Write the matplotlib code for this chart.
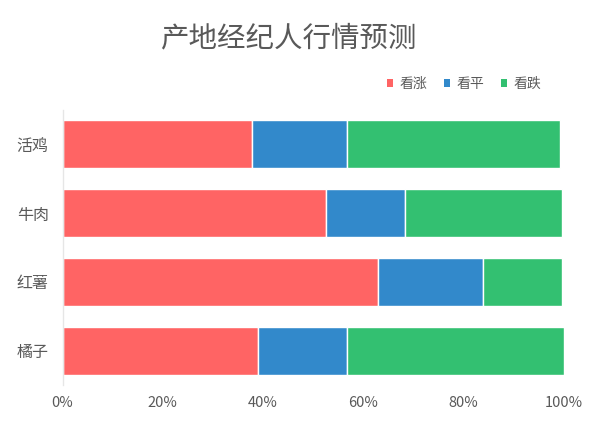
import matplotlib
matplotlib.use("Agg")
import matplotlib.pyplot as plt
from matplotlib.ticker import FuncFormatter
from matplotlib.patches import Patch

plt.rcParams['font.family'] = ['Noto Sans CJK SC', 'DejaVu Sans']

# Categories listed from top to bottom
categories = ['活鸡', '牛肉', '红薯', '橘子']
series_names = ['看涨', '看平', '看跌']
rise = [37.8, 52.5, 62.9, 39.0]
flat = [18.9, 15.8, 21.0, 17.7]
fall = [42.6, 31.3, 15.7, 43.3]
x_ticks = [0, 20, 40, 60, 80, 100]

colors = ['#FF6464', '#3289CB', '#33C071']
text_color = '#595959'

fig = plt.figure(figsize=(6, 4.25), dpi=100)
ax = fig.add_axes([0.1042, 0.0941, 0.8350, 0.6471])

ypos = list(range(len(categories)))
left = [0.0] * len(categories)
for name, vals, col in zip(series_names, [rise, flat, fall], colors):
    ax.barh(ypos, vals, left=left, height=0.7, color=col,
            edgecolor='white', linewidth=1.0, label=name)
    left = [l + v for l, v in zip(left, vals)]

ax.set_ylim(len(categories) - 0.5, -0.5)
ax.set_xlim(0, 100)
ax.set_yticks(ypos)
ax.set_yticklabels(categories)
ax.set_xticks(x_ticks)
ax.xaxis.set_major_formatter(FuncFormatter(lambda v, p: f'{int(v)}%'))

for s in ['top', 'right', 'bottom']:
    ax.spines[s].set_visible(False)
ax.spines['left'].set_color('#E6E6E6')
ax.spines['left'].set_linewidth(1.0)
ax.tick_params(axis='both', length=0, colors=text_color)
ax.tick_params(axis='y', pad=10, labelsize=11.5)
ax.tick_params(axis='x', pad=8, labelsize=10.5)

fig.text(0.48, 0.91, '产地经纪人行情预测', ha='center', va='center',
         fontsize=20.5, color=text_color)

handles = [Patch(facecolor=c, edgecolor='none') for c in colors]
fig.legend(handles, series_names, loc='center', bbox_to_anchor=(0.773, 0.802),
           ncol=3, frameon=False, fontsize=10, labelcolor=text_color,
           handlelength=0.45, handleheight=0.45, handletextpad=0.45,
           columnspacing=1.2)

fig.savefig('out.png', dpi=100, facecolor='white')
